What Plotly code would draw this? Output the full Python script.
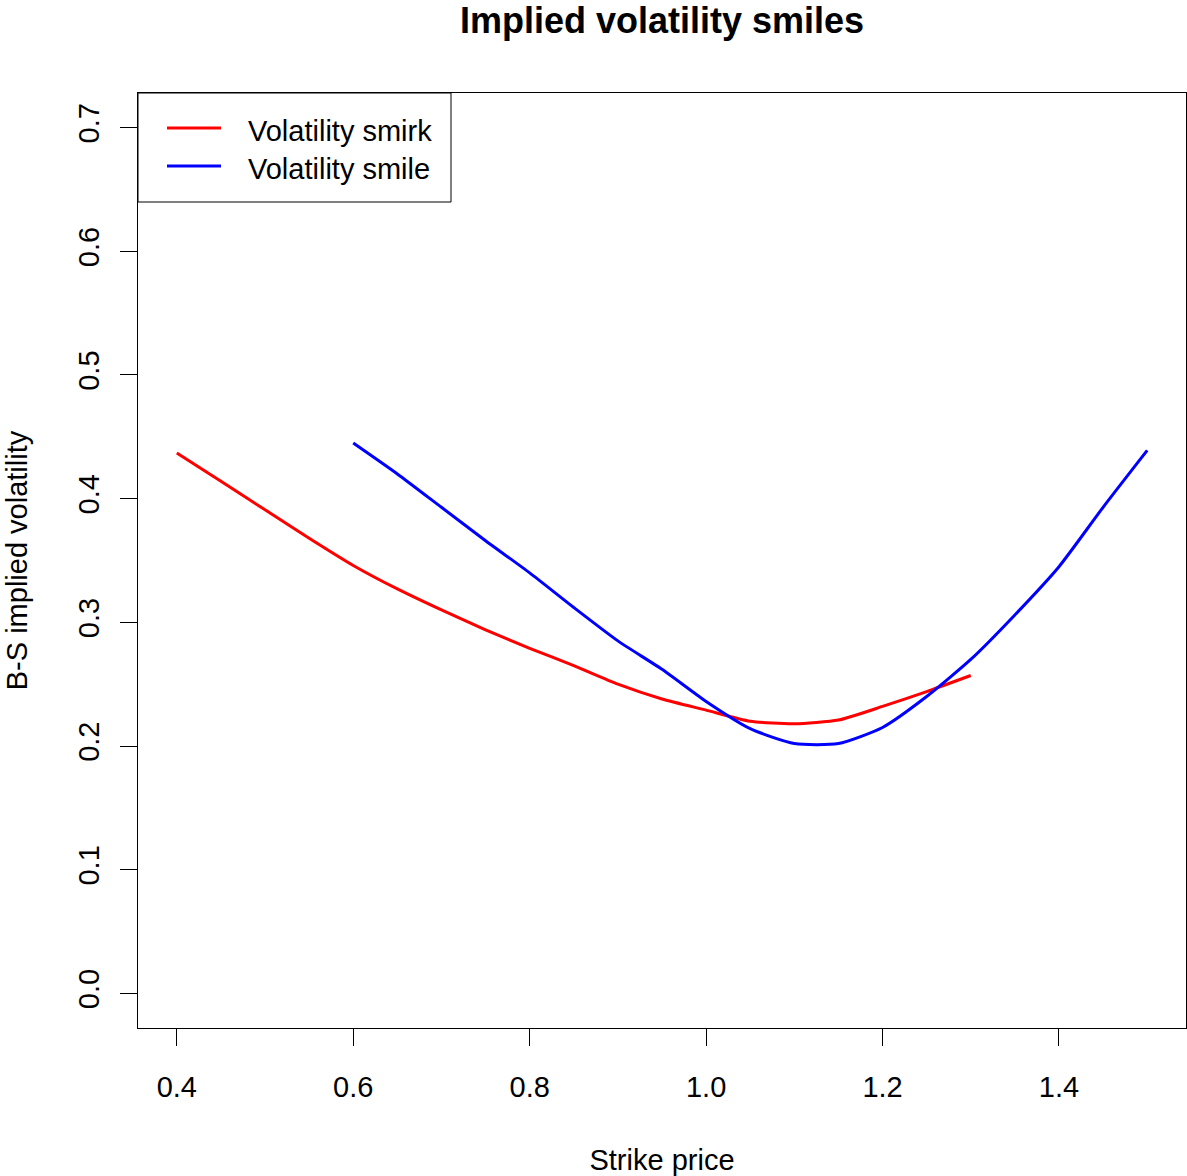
import plotly.graph_objects as go

# Volatility smirk (red)
smirk_strike = [0.40, 0.45, 0.50, 0.55, 0.60, 0.65, 0.70, 0.75, 0.80, 0.85,
                0.90, 0.95, 1.00, 1.05, 1.10, 1.15, 1.20, 1.25, 1.30]
smirk_vol = [0.437, 0.414, 0.391, 0.368, 0.346, 0.327, 0.310, 0.294, 0.279, 0.265,
             0.250, 0.238, 0.229, 0.220, 0.218, 0.221, 0.232, 0.244, 0.257]

# Volatility smile (blue)
smile_strike = [0.60, 0.65, 0.70, 0.75, 0.80, 0.85, 0.90, 0.95, 1.00, 1.05,
                1.10, 1.15, 1.20, 1.25, 1.30, 1.35, 1.40, 1.45, 1.50]
smile_vol = [0.445, 0.420, 0.393, 0.366, 0.340, 0.312, 0.285, 0.262, 0.236, 0.214,
             0.202, 0.202, 0.215, 0.240, 0.270, 0.306, 0.345, 0.393, 0.439]

series_names = ["Volatility smirk", "Volatility smile"]
series_colors = ["#ff0000", "#0000ff"]

x_ticks = [0.4, 0.6, 0.8, 1.0, 1.2, 1.4]
x_labels = ["0.4", "0.6", "0.8", "1.0", "1.2", "1.4"]
y_ticks = [0.0, 0.1, 0.2, 0.3, 0.4, 0.5, 0.6, 0.7]
y_labels = ["0.0", "0.1", "0.2", "0.3", "0.4", "0.5", "0.6", "0.7"]

FONT = "Liberation Sans, Arial, sans-serif"
W, H = 1187, 1176
ML, MR, MT, MB = 138, 1, 93, 148
PW, PH = W - ML - MR, H - MT - MB

fig = go.Figure()
for xs, ys, nm, col in [(smirk_strike, smirk_vol, series_names[0], series_colors[0]),
                        (smile_strike, smile_vol, series_names[1], series_colors[1])]:
    fig.add_trace(go.Scatter(x=xs, y=ys, mode="lines", name=nm, showlegend=False,
                             line=dict(color=col, width=3, shape="spline", smoothing=0.6)))

# Manual legend box (R style)
def px_x(p):
    return (p - ML) / PW

def px_y(p):
    return (MT + PH - p) / PH

shapes = [dict(type="rect", xref="paper", yref="paper",
               x0=0, x1=px_x(451), y0=px_y(202), y1=1,
               line=dict(color="black", width=1), fillcolor="white", layer="above")]
annotations = []
for i, (nm, col) in enumerate(zip(series_names, series_colors)):
    yy = px_y(128 + 38 * i)
    shapes.append(dict(type="line", xref="paper", yref="paper",
                       x0=px_x(167), x1=px_x(221), y0=yy, y1=yy,
                       line=dict(color=col, width=3), layer="above"))
    annotations.append(dict(text=nm, xref="paper", yref="paper", x=px_x(246), y=yy,
                            xanchor="left", yanchor="middle", showarrow=False, yshift=-3,
                            font=dict(family=FONT, size=29, color="black")))

fig.update_layout(
    width=W, height=H,
    margin=dict(l=ML, r=MR, t=MT, b=MB),
    paper_bgcolor="white", plot_bgcolor="white",
    font=dict(family=FONT, size=29, color="black"),
    title=dict(text="<b>Implied volatility smiles</b>", x=662 / W,
               xanchor="center", y=1 - 20 / H, yanchor="middle",
               font=dict(family=FONT, size=36, color="black")),
    showlegend=False,
    shapes=shapes,
    annotations=annotations,
    xaxis=dict(range=[0.356, 1.544], tickmode="array", tickvals=x_ticks, ticktext=x_labels,
               showgrid=False, zeroline=False, showline=True, mirror=True,
               linecolor="black", linewidth=1, ticks="outside", ticklen=17,
               tickcolor="black", tickwidth=1, ticklabelstandoff=16,
               title=dict(text="Strike price", standoff=47,
                          font=dict(family=FONT, size=29))),
    yaxis=dict(range=[-0.028, 0.728], tickmode="array", tickvals=y_ticks, ticktext=y_labels,
               showgrid=False, zeroline=False, showline=True, mirror=True,
               linecolor="black", linewidth=1, ticks="outside", ticklen=17,
               tickcolor="black", tickwidth=1, tickangle=-90, ticklabelstandoff=9,
               title=dict(text="B-S implied volatility", standoff=37,
                          font=dict(family=FONT, size=29))),
)

fig.write_html("out.html")
